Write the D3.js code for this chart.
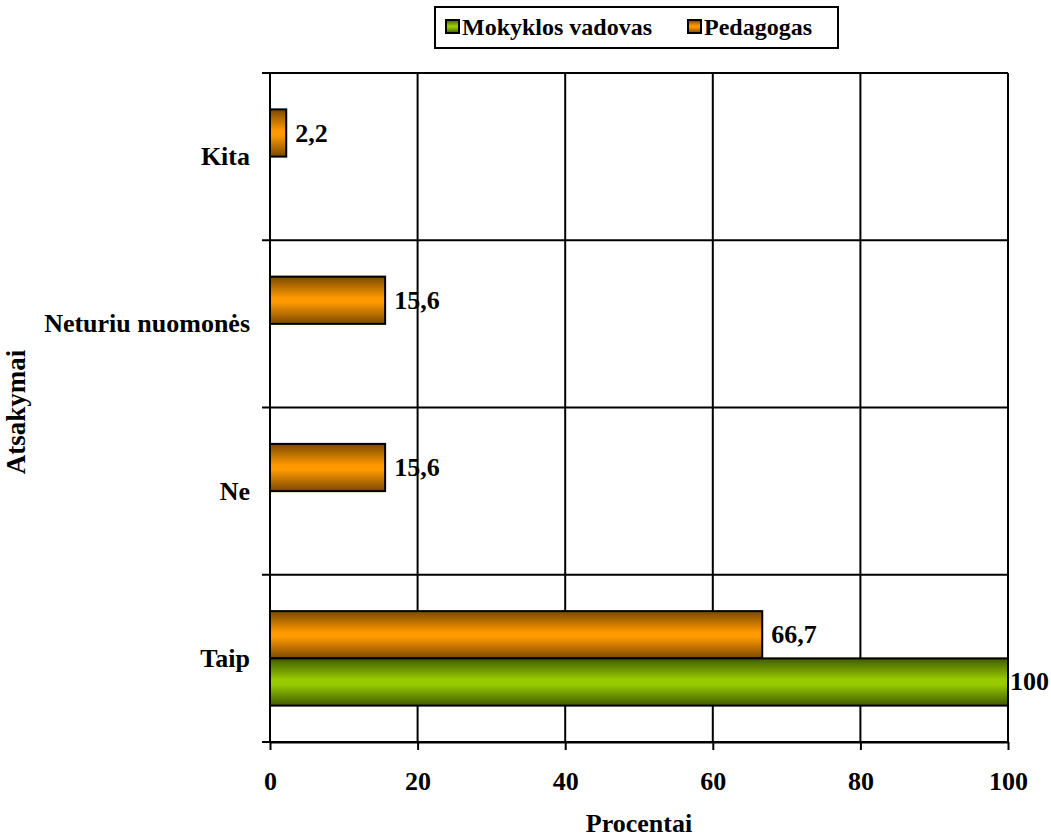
<!DOCTYPE html>
<html><head><meta charset="utf-8">
<script src="https://cdn.jsdelivr.net/npm/d3@7"></script>
<style>body{margin:0;background:#fff}svg text{font-family:"Liberation Serif","Times New Roman",serif;font-weight:bold;fill:#000}</style>
</head><body>
<svg id="c" width="1051" height="838"></svg>
<script>
const categories = ["Taip","Ne","Neturiu nuomonės","Kita"];
const seriesNames = ["Mokyklos vadovas","Pedagogas"];
const vadovas = [100, 0, 0, 0];
const pedagogas = [66.7, 15.6, 15.6, 2.2];
const xTicks = [0,20,40,60,80,100];

const svg = d3.select("#c");
const m = {l:270, r:1008, t:73, b:742};
const FS = 26;
const x = d3.scaleLinear().domain([0,100]).range([m.l, m.r]);
const y = d3.scaleBand().domain(categories).range([m.b, m.t]);
const inner = d3.scaleBand().domain(["Pedagogas","Mokyklos vadovas"]).range([0, y.bandwidth()]).paddingInner(0).paddingOuter(0.77);

const defs = svg.append("defs");
function grad(id, edge, mid){
  const g = defs.append("linearGradient").attr("id",id).attr("x1",0).attr("y1",0).attr("x2",0).attr("y2",1);
  g.append("stop").attr("offset","0%").attr("stop-color",edge);
  g.append("stop").attr("offset","45%").attr("stop-color",mid);
  g.append("stop").attr("offset","55%").attr("stop-color",mid);
  g.append("stop").attr("offset","100%").attr("stop-color",edge);
}
grad("gOr","#7a4800","#ff9900");
grad("gGr","#3f5a00","#99cc00");

// vertical gridlines
svg.append("g").selectAll("line").data(xTicks.slice(1)).join("line")
  .attr("x1",d=>x(d)).attr("x2",d=>x(d)).attr("y1",m.t).attr("y2",m.b)
  .attr("stroke","#000").attr("stroke-width",2);
// category boundaries
const bounds = categories.map(c=>y(c)).concat([m.b]);
svg.append("g").selectAll("line").data(bounds).join("line")
  .attr("x1",m.l-8).attr("x2",m.r).attr("y1",d=>d).attr("y2",d=>d)
  .attr("stroke","#000").attr("stroke-width",2);
svg.append("line").attr("x1",m.l).attr("x2",m.l).attr("y1",m.t).attr("y2",m.b).attr("stroke","#000").attr("stroke-width",2);

// x axis
const xAxis = svg.append("g").attr("transform",`translate(0,${m.b})`)
  .call(d3.axisBottom(x).tickValues(xTicks).tickSize(8).tickSizeOuter(0).tickPadding(0));
xAxis.select(".domain").attr("stroke","#000").attr("stroke-width",2);
xAxis.selectAll(".tick line").attr("stroke","#000").attr("stroke-width",2);
xAxis.selectAll("text").attr("dy",null).attr("y",48).attr("font-size",FS);

// category labels
svg.append("g").selectAll("text").data(categories).join("text")
  .attr("x",250).attr("y",d=>y(d)+y.bandwidth()/2+8.5)
  .attr("text-anchor","end").attr("font-size",FS).text(d=>d);

// bars
const data = [];
categories.forEach((c,i)=>{
  data.push({c, s:"Pedagogas", v:pedagogas[i]});
  data.push({c, s:"Mokyklos vadovas", v:vadovas[i]});
});
const shown = data.filter(d=>d.v>0);
svg.append("g").selectAll("rect").data(shown).join("rect")
  .attr("x",x(0)).attr("y",d=>y(d.c)+inner(d.s))
  .attr("width",d=>x(d.v)-x(0)).attr("height",inner.bandwidth())
  .attr("fill",d=>d.s==="Pedagogas"?"url(#gOr)":"url(#gGr)")
  .attr("stroke","#000").attr("stroke-width",2);
svg.append("g").selectAll("text").data(shown).join("text")
  .attr("x",d=>x(d.v)+(d.v>=100?2:9)).attr("y",d=>y(d.c)+inner(d.s)+inner.bandwidth()/2+8.5)
  .attr("font-size",FS).text(d=>String(d.v).replace(".",","));

// axis titles
svg.append("text").attr("x",639).attr("y",832).attr("text-anchor","middle").attr("font-size",FS).text("Procentai");
svg.append("text").attr("transform","translate(25,412) rotate(-90)").attr("text-anchor","middle").attr("font-size",FS+1).text("Atsakymai");

// legend
const lg = svg.append("g");
lg.append("rect").attr("x",435).attr("y",7).attr("width",403).attr("height",41).attr("fill","#fff").attr("stroke","#000").attr("stroke-width",2);
const items = [{n:seriesNames[0], f:"url(#gGr)", x:446},{n:seriesNames[1], f:"url(#gOr)", x:688}];
items.forEach(it=>{
  lg.append("rect").attr("x",it.x).attr("y",20).attr("width",13).attr("height",13).attr("fill",it.f).attr("stroke","#000").attr("stroke-width",2);
  lg.append("text").attr("x",it.x+16).attr("y",35).attr("font-size",24).text(it.n);
});
</script>
</body></html>
